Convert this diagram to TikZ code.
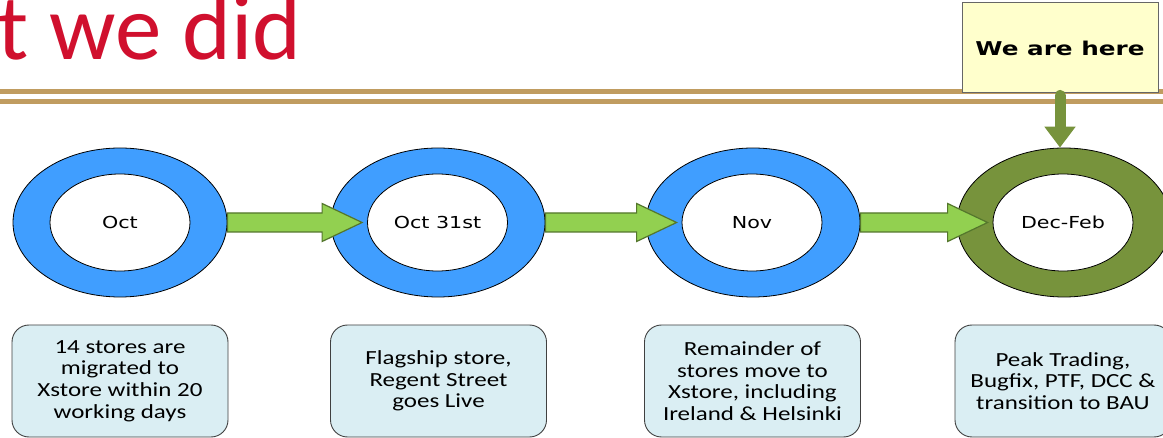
\documentclass[tikz,border=0pt]{standalone}
\usepackage{fontspec}
\usetikzlibrary{shapes.geometric,arrows.meta,calc}
\setmainfont{Carlito}
\newfontfamily\titlefont{Carlito}
\newfontfamily\ringfont[FakeStretch=1.25]{DejaVu Sans}
\newfontfamily\boxfont[FakeStretch=1.25]{Carlito}
\newfontfamily\herefont[FakeStretch=1.3]{DejaVu Sans}
\definecolor{ringblue}{RGB}{64,158,255}
\definecolor{ringgreen}{RGB}{119,147,60}
\definecolor{arrowfill}{RGB}{146,208,80}
\definecolor{arrowedge}{RGB}{84,118,44}
\definecolor{boxfill}{RGB}{218,238,243}
\definecolor{boxedge}{RGB}{64,64,64}
\definecolor{herefill}{RGB}{255,255,204}
\definecolor{goldline}{RGB}{192,156,96}
\definecolor{titlered}{RGB}{208,16,46}
\tikzset{
  outerring/.style={ellipse, draw=black, line width=0.8pt, minimum width=214pt, minimum height=149pt, inner sep=0pt},
  innerring/.style={ellipse, draw=black, line width=0.8pt, fill=white, minimum width=140pt, minimum height=97pt, inner sep=0pt, font=\ringfont\fontsize{16.5}{20}\selectfont},
  infobox/.style={draw=boxedge, line width=0.9pt, fill=boxfill, rounded corners=17pt, minimum width=216pt, minimum height=112pt, inner sep=0pt, align=center, font=\boxfont\fontsize{20}{21.7}\selectfont},
  flowarrow/.style={fill=arrowfill, draw=arrowedge, line width=1.2pt, line join=miter},
  herebox/.style={draw=black!60, line width=1pt, fill=herefill, minimum width=196pt, minimum height=90pt, inner sep=0pt, font=\herefont\bfseries\fontsize{19}{22}\selectfont},
  herearrow/.style={draw=ringgreen, line width=11pt, line cap=round, -{Triangle[width=30pt,length=21pt]}},
  gold/.style={draw=goldline, line width=5.5pt}
}
\newcommand\stepflow[2]{%
  \path[flowarrow] ($(#1.east)+(0,-9.5)$) -- ($(#2.west)+(-45,-9.5)$) -- ($(#2.west)+(-45,-19)$) -- ($(#2.west)+(-5,0)$) -- ($(#2.west)+(-45,19)$) -- ($(#2.west)+(-45,9.5)$) -- ($(#1.east)+(0,9.5)$) -- cycle;}
\begin{document}
\begin{tikzpicture}[x=1pt,y=-1pt]
\useasboundingbox (0,0) rectangle (1163,438);
\fill[white] (0,0) rectangle (1163,438);
% title
\node[anchor=base west, inner sep=0pt, text=titlered, font=\titlefont\fontsize{93}{100}\selectfont] (title) at (-3,60) {t we did};
% gold rules
\draw[gold] (0,91.3) -- (1163,91.3);
\draw[gold] (0,101.3) -- (1163,101.3);
% rings
\node[outerring, fill=ringblue] (r1) at (120,222.5) {};
\node[outerring, fill=ringblue] (r2) at (438,222.5) {};
\node[outerring, fill=ringblue] (r3) at (753,222.5) {};
\node[outerring, fill=ringgreen] (r4) at (1064,222.5) {};
\node[innerring] (c1) at (120,222.5) {Oct};
\node[innerring] (c2) at (437.5,222.5) {Oct 31st};
\node[innerring] (c3) at (752,222.5) {Nov};
\node[innerring] (c4) at (1063,222.5) {Dec-Feb};
% flow arrows
\stepflow{r1}{c2}
\stepflow{r2}{c3}
\stepflow{r3}{c4}
% we are here
\node[herebox] (yb) at (1060,48) {We are here};
\draw[herearrow] ($(yb.south)+(0,2)$) -- (yb.south |- r4.north);
% info boxes
\node[infobox] (b1) at (120,381) {14 stores are\\migrated to\\Xstore within 20\\working days};
\node[infobox] (b2) at (438.5,381) {Flagship store,\\Regent Street\\goes Live};
\node[infobox] (b3) at (752.5,381) {Remainder of\\stores move to\\Xstore, including\\Ireland \& Helsinki};
\node[infobox] (b4) at (1063,381) {Peak Trading,\\Bugfix, PTF, DCC \&\\transition to BAU};
\end{tikzpicture}
\end{document}
